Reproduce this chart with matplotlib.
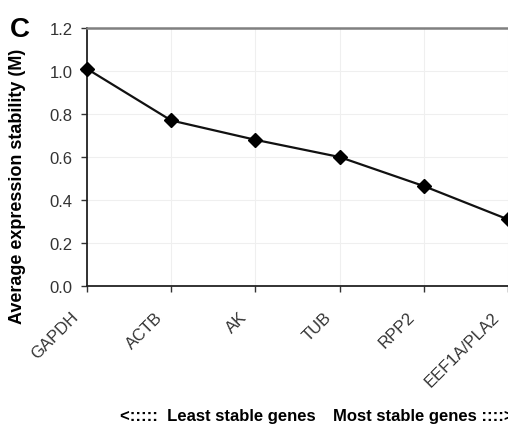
import matplotlib
matplotlib.use("Agg")
import matplotlib.pyplot as plt
import matplotlib.transforms as mtransforms

# ── Data ──────────────────────────────────────────────────────────────────────
genes = ["GAPDH", "ACTB", "AK", "TUB", "RPP2", "EEF1A/PLA2"]
stability_m = [1.01, 0.77, 0.68, 0.60, 0.465, 0.31]
y_ticks = [0.0, 0.2, 0.4, 0.6, 0.8, 1.0, 1.2]

plt.rcParams["font.family"] = ["Liberation Sans", "DejaVu Sans"]

fig = plt.figure(figsize=(5.08, 4.27), dpi=100)
# plot area runs past the right edge of the figure
ax = fig.add_axes([87 / 508, 1 - 287 / 427, 505 / 508, 258 / 427])

x = list(range(len(genes)))
ax.plot(x, stability_m, color="#111111", lw=1.6, marker="D", ms=7,
        mfc="black", mec="black", zorder=3, clip_on=False)

ax.set_xlim(0, 6)
ax.set_ylim(0, 1.2)
ax.set_yticks(y_ticks)
ax.set_yticklabels([f"{v:.1f}" for v in y_ticks], fontsize=12, color="#333333")
ax.set_xticks(x)
ax.set_xticklabels(genes, rotation=45, ha="right", va="center",
                   rotation_mode="anchor", fontsize=12, color="#333333")
ax.tick_params(axis="x", length=4.5, width=1, color="#333333", pad=3)
ax.tick_params(axis="y", length=4.5, width=1, color="#333333", pad=6)

# push the slanted gene names down and to the left of their ticks
offset = mtransforms.ScaledTranslation(-0.11, -0.18, fig.dpi_scale_trans)
for lab in ax.get_xticklabels():
    lab.set_transform(lab.get_transform() + offset)

ax.grid(True, color="#efefef", lw=0.8)
ax.set_axisbelow(True)
for side in ["left", "bottom"]:
    ax.spines[side].set_color("#222222")
    ax.spines[side].set_linewidth(1.3)
ax.spines["top"].set_color("#808080")
ax.spines["top"].set_linewidth(1.8)
ax.spines["right"].set_visible(False)

fig.text(18 / 508, 1 - 186 / 427, "Average expression stability (M)",
         fontsize=13, fontweight="bold", rotation=90, ha="center", va="center")

fig.text(10 / 508, 1 - 30 / 427, "C", fontsize=20, fontweight="bold",
         va="center", ha="left")
fig.text(120 / 508, 1 - 417 / 427, "<:::::  Least stable genes",
         fontsize=12, fontweight="bold", va="center", ha="left")
fig.text(333 / 508, 1 - 417 / 427, "Most stable genes ::::>",
         fontsize=12, fontweight="bold", va="center", ha="left")

fig.savefig("out.png", dpi=100)
